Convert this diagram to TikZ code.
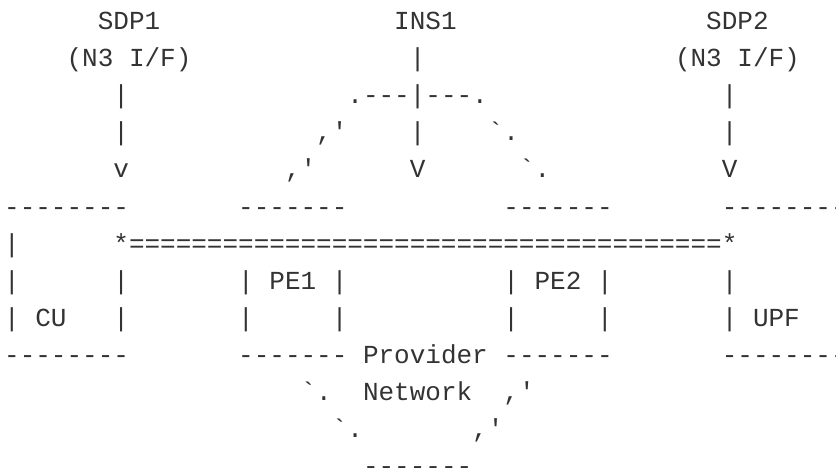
\documentclass[tikz,border=0pt]{standalone}
\usepackage{fontspec}
\setmonofont{Liberation Mono}
\usepackage{xcolor}
\usepackage{tikz}

\definecolor{inkgray}{RGB}{51,51,51}

\begin{document}
\begin{tikzpicture}[
        x=15.6pt, y=-37.14pt,
        ascii/.style={anchor=base west, inner sep=0pt, outer sep=0pt, text=inkgray, font=\ttfamily\fontsize{26pt}{37pt}\selectfont}
    ]

    % Page frame
    \path[use as bounding box, clip] (-4.2pt,-7.84pt) rectangle (831.8pt,-474.84pt);

    % Service demarcation points and instance
    \node[ascii] (sdp1) at (6,1) {SDP1};
    \node[ascii] (ins1) at (25,1) {INS1};
    \node[ascii] (sdp2) at (45,1) {SDP2};
    \node[ascii] (ifleft) at (4,2) {(N3 I/F)};
    \node[ascii] (insbar) at (26,2) {|};
    \node[ascii] (ifright) at (43,2) {(N3 I/F)};

    % Downward arrows
    \node[ascii] (barl1) at (7,3) {|};
    \node[ascii] (fork) at (22,3) {.---|---.};
    \node[ascii] (barr1) at (46,3) {|};
    \node[ascii] (barl2) at (7,4) {|};
    \node[ascii] (forkl1) at (20,4) {,'};
    \node[ascii] (insbar2) at (26,4) {|};
    \node[ascii] (forkr1) at (31,4) {`.};
    \node[ascii] (barr2) at (46,4) {|};
    \node[ascii] (tipl) at (7,5) {v};
    \node[ascii] (forkl2) at (18,5) {,'};
    \node[ascii] (tipm) at (26,5) {V};
    \node[ascii] (forkr2) at (33,5) {`.};
    \node[ascii] (tipr) at (46,5) {V};

    % Box tops
    \node[ascii] (cutop) at (0,6) {--------};
    \node[ascii] (pe1top) at (15,6) {-------};
    \node[ascii] (pe2top) at (32,6) {-------};
    \node[ascii] (upftop) at (46,6) {--------};

    % Slice across the provider network
    \node[ascii] (cul1) at (0,7) {|};
    \node[ascii] (slice) at (7,7) {*======================================*};

    % Box sides and labels
    \node[ascii] (cul2) at (0,8) {|};
    \node[ascii] (cur2) at (7,8) {|};
    \node[ascii] (pe1) at (15,8) {| PE1 |};
    \node[ascii] (pe2) at (32,8) {| PE2 |};
    \node[ascii] (upfl2) at (46,8) {|};
    \node[ascii] (cu) at (0,9) {| CU};
    \node[ascii] (cur3) at (7,9) {|};
    \node[ascii] (pe1l) at (15,9) {|};
    \node[ascii] (pe1r) at (21,9) {|};
    \node[ascii] (pe2l) at (32,9) {|};
    \node[ascii] (pe2r) at (38,9) {|};
    \node[ascii] (upf) at (46,9) {| UPF};

    % Box bottoms and provider network
    \node[ascii] (cubot) at (0,10) {--------};
    \node[ascii] (provider) at (15,10) {------- Provider -------};
    \node[ascii] (upfbot) at (46,10) {--------};
    \node[ascii] (netl1) at (19,11) {`.};
    \node[ascii] (network) at (23,11) {Network};
    \node[ascii] (netr1) at (32,11) {,'};
    \node[ascii] (netl2) at (21,12) {`.};
    \node[ascii] (netr2) at (30,12) {,'};
    \node[ascii] (netbot) at (23,13) {-------};

\end{tikzpicture}
\end{document}
